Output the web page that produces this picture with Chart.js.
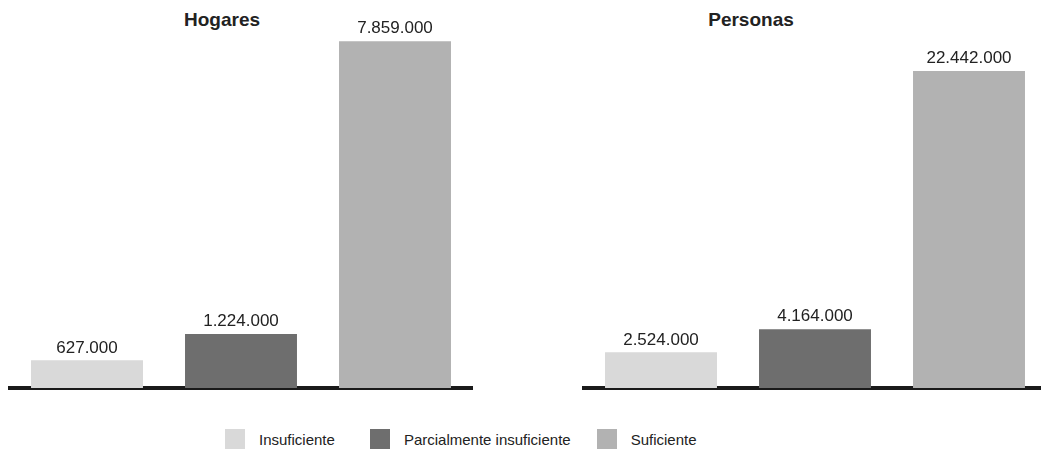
<!DOCTYPE html>
<html>
<head>
<meta charset="utf-8">
<script src="https://cdn.jsdelivr.net/npm/chart.js@4"></script>
<style>
  html, body { margin: 0; padding: 0; background: #fff; overflow: hidden; }
  body { width: 1041px; height: 452px; position: relative; font-family: "Liberation Sans", Arial, sans-serif; color: #222; }
  .panel { position: absolute; top: 0; width: 490px; height: 400px; }
  .titulo { position: absolute; top: 9px; font-weight: bold; font-size: 19px; transform: translateX(-50%); white-space: nowrap; }
  #leyenda { position: absolute; left: 225px; top: 429px; display: flex; align-items: center; font-size: 15px; }
  #leyenda .item { display: flex; align-items: center; }
  #leyenda .caja { width: 20px; height: 20px; margin-right: 14px; }
</style>
</head>
<body>
<div class="titulo" style="left:222px">Hogares</div>
<div class="titulo" style="left:751px">Personas</div>
<div class="panel" style="left:0px"><canvas id="hogares"></canvas></div>
<div class="panel" style="left:574px"><canvas id="personas"></canvas></div>
<div id="leyenda"></div>

<script>
// Datos
const categorias = ['Insuficiente', 'Parcialmente insuficiente', 'Suficiente'];
const colores = ['#d9d9d9', '#6e6e6e', '#b2b2b2'];
const hogares = [627000, 1224000, 7859000];
const personas = [2524000, 4164000, 22442000];
const maxHogares = 8000000;
const maxPersonas = 25000000;

// formato con puntos de miles
function formatoMiles(v) {
    return v.toString().replace(/\B(?=(\d{3})+(?!\d))/g, '.');
}

// etiquetas de valor encima de las barras
const etiquetasValor = {
    id: 'etiquetasValor',
    afterDatasetsDraw(chart) {
        const ctx = chart.ctx;
        const meta = chart.getDatasetMeta(0);
        ctx.save();
        ctx.font = '17px "Liberation Sans", Arial, sans-serif';
        ctx.fillStyle = '#222';
        ctx.textAlign = 'center';
        ctx.textBaseline = 'bottom';
        meta.data.forEach((bar, i) => {
            ctx.fillText(formatoMiles(chart.data.datasets[0].data[i]), bar.x, bar.y - 4);
        });
        ctx.restore();
    }
};

function crearGrafico(id, valores, maximo) {
    const ctx = document.getElementById(id).getContext('2d');
    return new Chart(ctx, {
        type: 'bar',
        data: {
            labels: categorias,
            datasets: [{
                data: valores,
                backgroundColor: colores,
                borderWidth: 0,
                barPercentage: 0.727,
                categoryPercentage: 1
            }]
        },
        options: {
            responsive: false,
            animation: false,
            layout: { padding: { left: 10, right: 18, top: 35, bottom: 12 } },
            plugins: {
                legend: { display: false },
                tooltip: { enabled: false }
            },
            scales: {
                x: {
                    grid: { display: false, drawTicks: false },
                    ticks: { display: false },
                    border: { display: true, color: '#1a1a1a', width: 4 }
                },
                y: {
                    display: false,
                    min: 0,
                    max: maximo
                }
            }
        },
        plugins: [etiquetasValor]
    });
}

document.getElementById('hogares').width = 490;
document.getElementById('hogares').height = 400;
document.getElementById('personas').width = 490;
document.getElementById('personas').height = 400;

crearGrafico('hogares', hogares, maxHogares);
crearGrafico('personas', personas, maxPersonas);

// Leyenda
const separacion = [35, 26, 0];
const leyenda = document.getElementById('leyenda');
categorias.forEach((cat, i) => {
    const item = document.createElement('div');
    item.className = 'item';
    item.style.marginRight = separacion[i] + 'px';
    const caja = document.createElement('span');
    caja.className = 'caja';
    caja.style.background = colores[i];
    const texto = document.createElement('span');
    texto.textContent = cat;
    item.appendChild(caja);
    item.appendChild(texto);
    leyenda.appendChild(item);
});
</script>
</body>
</html>
